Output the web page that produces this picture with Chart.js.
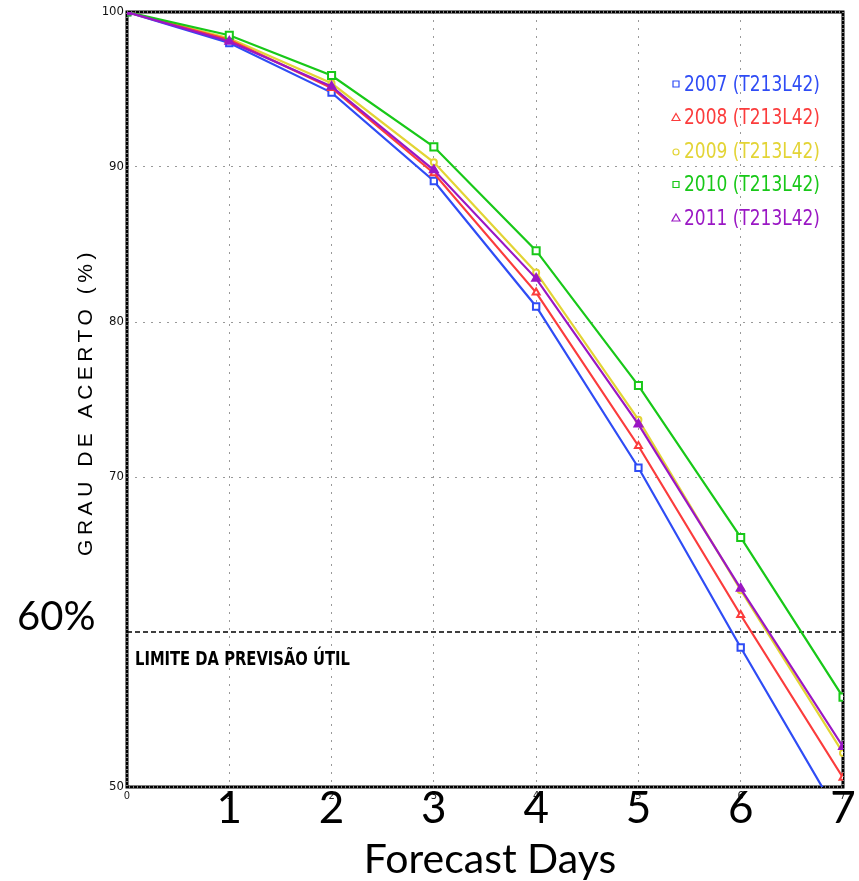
<!DOCTYPE html>
<html>
<head>
<meta charset="utf-8">
<script src="https://cdn.jsdelivr.net/npm/chart.js@4.4.0/dist/chart.umd.min.js"></script>
<style>
  html, body { margin:0; padding:0; background:#fff; }
  #wrap { width:859px; height:881px; }
</style>
</head>
<body>
<div id="wrap"><canvas id="grau" width="859" height="881"></canvas></div>
<script>
// dados
const days       = [0, 1, 2, 3, 4, 5, 6, 7];
const acerto2007 = [100, 98.0, 94.8, 89.1, 81.0, 70.6, 59.0, 47.7];
const acerto2008 = [100, 98.2, 95.1, 89.6, 81.9, 72.0, 61.1, 50.6];
const acerto2009 = [100, 98.3, 95.4, 90.3, 83.2, 73.7, 62.7, 52.2];
const acerto2010 = [100, 98.5, 95.9, 91.3, 84.6, 75.9, 66.1, 55.8];
const acerto2011 = [100, 98.1, 95.2, 89.8, 82.8, 73.4, 62.8, 52.6];
const yearLabels = ["2007 (T213L42)", "2008 (T213L42)", "2009 (T213L42)", "2010 (T213L42)", "2011 (T213L42)"];
const bigDays    = [1, 2, 3, 4, 5, 6, 7];
const limite     = 60;

const cores   = ["#2f4cf5", "#fb3c3c", "#e3d435", "#18c818", "#9a17c4"];
const marcas  = ["rect", "triangle", "circle", "rect", "triangle"];
const raios   = [4.5, 4, 3, 5, 4.5];
const ordem   = [3, 2, 4, 1, 0];
const series  = [acerto2007, acerto2008, acerto2009, acerto2010, acerto2011];

const toPts = arr => arr.map((v, i) => ({ x: days[i], y: v }));

const datasets = series.map((s, i) => ({
  label: yearLabels[i],
  data: toPts(s),
  borderColor: cores[i],
  backgroundColor: i === 4 ? cores[i] : "#fff",
  pointStyle: marcas[i],
  pointRadius: raios[i],
  pointBorderWidth: 2,
  pointBorderColor: cores[i],
  borderWidth: 2.2,
  tension: 0,
  order: ordem[i]
}));

// linha do limite 60%
datasets.push({
  label: "limite",
  data: [{ x: days[0], y: limite }, { x: days[days.length-1], y: limite }],
  borderColor: "#000",
  borderWidth: 1.5,
  borderDash: [5, 3],
  pointRadius: 0,
  order: 9
});

// texto estreito (fonte condensada esticada na vertical)
function narrowText(ctx, txt, x, y, sx) {
  ctx.save();
  ctx.translate(x, y);
  ctx.scale(sx, 1);
  ctx.fillText(txt, 0, 0);
  ctx.restore();
}

const extras = {
  id: "extras",
  beforeDatasetsDraw(chart) {
    const { ctx, chartArea: a } = chart;
    ctx.save();
    ctx.strokeStyle = "#000";
    ctx.lineWidth = 3;
    ctx.strokeRect(a.left, a.top, a.right - a.left, a.bottom - a.top);
    ctx.strokeStyle = "#fff";
    ctx.lineWidth = 1;
    ctx.setLineDash([1, 3]);
    ctx.strokeRect(a.left, a.top, a.right - a.left, a.bottom - a.top);
    ctx.restore();
  },
  afterDraw(chart) {
    const { ctx, chartArea: a, scales } = chart;
    ctx.save();

    // LIMITE text
    ctx.fillStyle = "#000";
    ctx.font = "bold 20px 'DejaVu Sans Condensed'";
    ctx.textBaseline = "alphabetic";
    narrowText(ctx, "LIMITE DA PREVISÃO ÚTIL", a.left + 8, scales.y.getPixelForValue(limite) + 33, 0.82);

    // legenda
    ctx.font = "22px 'DejaVu Sans Condensed'";
    ctx.textBaseline = "middle";
    yearLabels.forEach((t, i) => {
      const y = 84 + i * 33.5;
      ctx.fillStyle = cores[i];
      ctx.strokeStyle = cores[i];
      ctx.lineWidth = 1.2;
      ctx.setLineDash([]);
      ctx.beginPath();
      if (marcas[i] === "rect") ctx.rect(673, y - 3, 6, 6);
      else if (marcas[i] === "triangle") { ctx.moveTo(676, y - 4); ctx.lineTo(680, y + 3); ctx.lineTo(672, y + 3); ctx.closePath(); }
      else ctx.arc(676, y + 1, 3, 0, Math.PI * 2);
      ctx.stroke();
      narrowText(ctx, t, 684, y + 1, 0.86);
    });

    // numeros grandes dos dias
    ctx.fillStyle = "#000";
    ctx.font = "44px Lato";
    ctx.textAlign = "center";
    ctx.textBaseline = "alphabetic";
    bigDays.forEach(d => ctx.fillText(String(d), scales.x.getPixelForValue(d), 823));

    ctx.font = "41px Lato";
    ctx.fillText("Forecast Days", 490, 873);

    ctx.textAlign = "left";
    ctx.font = "40px Lato";
    ctx.fillText("60%", 17, 630);

    // titulo eixo y
    ctx.translate(86, 402);
    ctx.rotate(-Math.PI / 2);
    ctx.textAlign = "center";
    ctx.textBaseline = "middle";
    ctx.font = "21px 'Liberation Sans'";
    ctx.letterSpacing = "4.5px";
    ctx.fillText("GRAU DE ACERTO (%)", 0, 0);
    ctx.restore();
  }
};

new Chart(document.getElementById("grau"), {
  type: "line",
  data: { datasets },
  options: {
    responsive: false,
    animation: false,
    layout: { padding: { top: 12, right: 16, left: 0, bottom: 0 } },
    plugins: { legend: { display: false }, tooltip: { enabled: false } },
    scales: {
      x: {
        type: "linear", min: 0, max: 7,
        afterFit: s => { s.height = 94; },
        ticks: { stepSize: 1, color: "#222", padding: 3, font: { family: "'DejaVu Sans Condensed'", size: 11 } },
        grid: { color: "#999", drawTicks: false, lineWidth: 1 },
        border: { display: false, dash: [2, 6] }
      },
      y: {
        min: 50, max: 100,
        afterFit: s => { s.width = 127; },
        ticks: {
          stepSize: 10, color: "#111", padding: 3,
          font: { family: "'DejaVu Sans Condensed'", size: 13 },
          callback: v => v === limite ? "" : v
        },
        grid: { color: c => c.tick && c.tick.value === limite ? "rgba(0,0,0,0)" : "#999", drawTicks: false, lineWidth: 1 },
        border: { display: false, dash: [2, 6] }
      }
    }
  },
  plugins: [extras]
});
</script>
</body>
</html>
